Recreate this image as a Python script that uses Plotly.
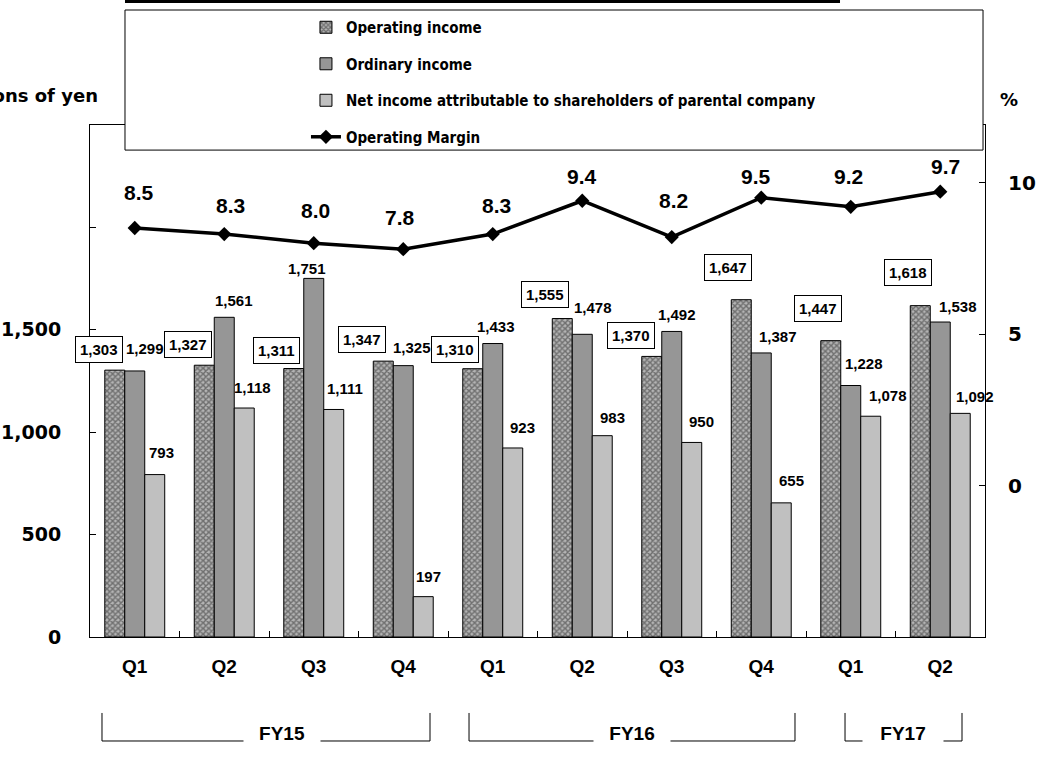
import plotly.graph_objects as go

# ---------------- data ----------------
quarters = ["Q1", "Q2", "Q3", "Q4", "Q1", "Q2", "Q3", "Q4", "Q1", "Q2"]
fiscal_years = ["FY15", "FY16", "FY17"]
operating_income = [1303, 1327, 1311, 1347, 1310, 1555, 1370, 1647, 1447, 1618]
ordinary_income = [1299, 1561, 1751, 1325, 1433, 1478, 1492, 1387, 1228, 1538]
net_income = [793, 1118, 1111, 197, 923, 983, 950, 655, 1078, 1092]
operating_margin = [8.5, 8.3, 8.0, 7.8, 8.3, 9.4, 8.2, 9.5, 9.2, 9.7]

# ---------------- label placement (pixel offsets from bar/marker top) ----------------
op_dx = [-16, -16, -17, -21, -18, -17, -21, -13, -13, -12]
op_dy = [21, 21, 18, 22, 19, 24, 21, 32, 32, 33]
ord_dx = [10, 10, -7, 9, 3, 11, 5, 17, 13, 18]
ord_dy = [22, 17, 10, 18, 17, 27, 17, 16, 22, 16]
net_dx = [7, 8, 11, 5, 10, 10, 10, 10, 17, 15]
net_dy = [22, 21, 21, 20, 20, 18, 21, 22, 21, 17]
mg_dx = [4, 6, 2, -3, 4, 0, 2, -5, -2, 5]
mg_dy = [36, 29, 33, 32, 29, 24, 37, 21, 30, 25]

x = list(range(len(quarters)))

WIDE = "DejaVu Sans, sans-serif"
SANS = "Liberation Sans, Arial, sans-serif"
LEG = "DejaVu Sans Condensed, DejaVu Sans, sans-serif"

fig = go.Figure()

fig.add_trace(go.Bar(
    x=x, y=operating_income, name="Operating income", legendgroup="a",
    marker=dict(color="#a0a0a0", line=dict(color="black", width=1),
                pattern=dict(shape="x", fgcolor="#2a2a2a", bgcolor="#b4b4b4",
                             size=4, solidity=0.6)),
))
fig.add_trace(go.Bar(
    x=x, y=ordinary_income, name="Ordinary income", legendgroup="b",
    marker=dict(color="#969696", line=dict(color="black", width=1)),
))
fig.add_trace(go.Bar(
    x=x, y=net_income, name="Net income attributable to shareholders of parental company",
    legendgroup="c",
    marker=dict(color="#c0c0c0", line=dict(color="black", width=1)),
))
fig.add_trace(go.Scatter(
    x=x, y=operating_margin, name="Operating Margin", legendgroup="d", yaxis="y2",
    mode="lines+markers",
    line=dict(color="black", width=3.5),
    marker=dict(symbol="diamond", size=11, color="black"),
))

annotations = []
BAR_OFF = 20  # pixel offset of side bars from category centre
LBL_FONT = dict(family=SANS, size=15, color="black", weight="bold")
for i in x:
    annotations.append(dict(
        x=i, y=operating_income[i], xref="x", yref="y",
        text=f"{operating_income[i]:,}", showarrow=False,
        xshift=-BAR_OFF + op_dx[i], yshift=op_dy[i],
        font=LBL_FONT,
        bgcolor="white", bordercolor="black", borderwidth=1, borderpad=4,
    ))
    annotations.append(dict(
        x=i, y=ordinary_income[i], xref="x", yref="y",
        text=f"{ordinary_income[i]:,}", showarrow=False,
        xshift=ord_dx[i], yshift=ord_dy[i], font=LBL_FONT,
    ))
    annotations.append(dict(
        x=i, y=net_income[i], xref="x", yref="y",
        text=f"{net_income[i]:,}", showarrow=False,
        xshift=BAR_OFF + net_dx[i], yshift=net_dy[i], font=LBL_FONT,
    ))
    annotations.append(dict(
        x=i, y=operating_margin[i], xref="x", yref="y2",
        text=f"{operating_margin[i]:.1f}", showarrow=False,
        xshift=mg_dx[i], yshift=mg_dy[i],
        font=dict(family=SANS, size=21, color="black", weight="bold"),
    ))

# fiscal year brackets
fy_spans = [(-0.366, 3.299, 1.645), (3.735, 7.377, 5.556), (7.936, 9.243, 8.584)]
fy_gap = [74, 74, 78]
shapes = []
for (x0, x1, xc), lab, g in zip(fy_spans, fiscal_years, fy_gap):
    shapes.append(dict(type="path", xref="x", yref="paper",
                       path=f"M {x0},-0.1484 L {x0},-0.2031 L {x1},-0.2031 L {x1},-0.1484",
                       line=dict(color="black", width=1)))
    annotations.append(dict(x=xc, y=-0.2129, xref="x", yref="paper", text=lab,
                            showarrow=False, bgcolor="white", width=g,
                            font=dict(family=SANS, size=19, color="black", weight="bold")))

# legend frame and top rule
shapes.append(dict(type="rect", xref="paper", yref="paper", x0=0.0391, x1=0.9978,
                   y0=0.951, y1=1.2246, fillcolor="white",
                   line=dict(color="black", width=1), layer="above"))
shapes.append(dict(type="line", xref="paper", yref="paper", x0=0.0391, x1=0.838,
                   y0=1.2412, y1=1.2412, line=dict(color="black", width=3), layer="above"))

annotations.append(dict(x=0.0112, y=1.082, xref="paper", yref="paper", xanchor="right",
                        text="Millions of yen", showarrow=False,
                        font=dict(family=WIDE, size=18, color="black", weight="bold")))
annotations.append(dict(x=1.039, y=1.074, xref="paper", yref="paper",
                        text="%", showarrow=False,
                        font=dict(family=WIDE, size=18, color="black", weight="bold")))

fig.update_layout(
    width=1040, height=758,
    margin=dict(l=90, r=55, t=125, b=121, pad=0, autoexpand=False),
    paper_bgcolor="white", plot_bgcolor="white",
    barmode="group", bargap=0.33, bargroupgap=0,
    showlegend=True,
    legend=dict(x=0.2413, y=1.2226, xanchor="left", yanchor="top",
                bgcolor="rgba(0,0,0,0)", borderwidth=0,
                tracegroupgap=14, traceorder="grouped",
                font=dict(family=LEG, size=15, color="black", weight="bold")),
    xaxis=dict(range=[-0.5, 9.5], tickmode="array", tickvals=x, ticktext=quarters,
               ticks="", showline=True, linecolor="black", linewidth=1, mirror=True,
               showgrid=False, zeroline=False, ticklabelstandoff=12, automargin=False,
               tickfont=dict(family=SANS, size=19, color="black", weight="bold"),
               minor=dict(tickmode="array", tickvals=[i + 0.5 for i in x[:-1]],
                          ticks="inside", ticklen=6, tickcolor="black", showgrid=False)),
    yaxis=dict(range=[0, 2500], tickmode="array", tickvals=[0, 500, 1000, 1500, 2000],
               ticktext=["0", "500", "1,000", "1,500", ""],
               ticks="inside", ticklen=6, tickcolor="black",
               showline=True, linecolor="black", linewidth=1, mirror=True,
               showgrid=False, zeroline=False, ticklabelstandoff=24, automargin=False,
               tickfont=dict(family=WIDE, size=19, color="black", weight="bold")),
    yaxis2=dict(range=[-5, 11.9], overlaying="y", side="right",
                tickmode="array", tickvals=[0, 5, 10],
                ticks="inside", ticklen=6, tickcolor="black",
                showline=True, linecolor="black", linewidth=1, automargin=False,
                showgrid=False, zeroline=False, ticklabelstandoff=18,
                tickfont=dict(family=WIDE, size=20, color="black", weight="bold")),
    annotations=annotations,
    shapes=shapes,
)

fig.write_html("out.html")
